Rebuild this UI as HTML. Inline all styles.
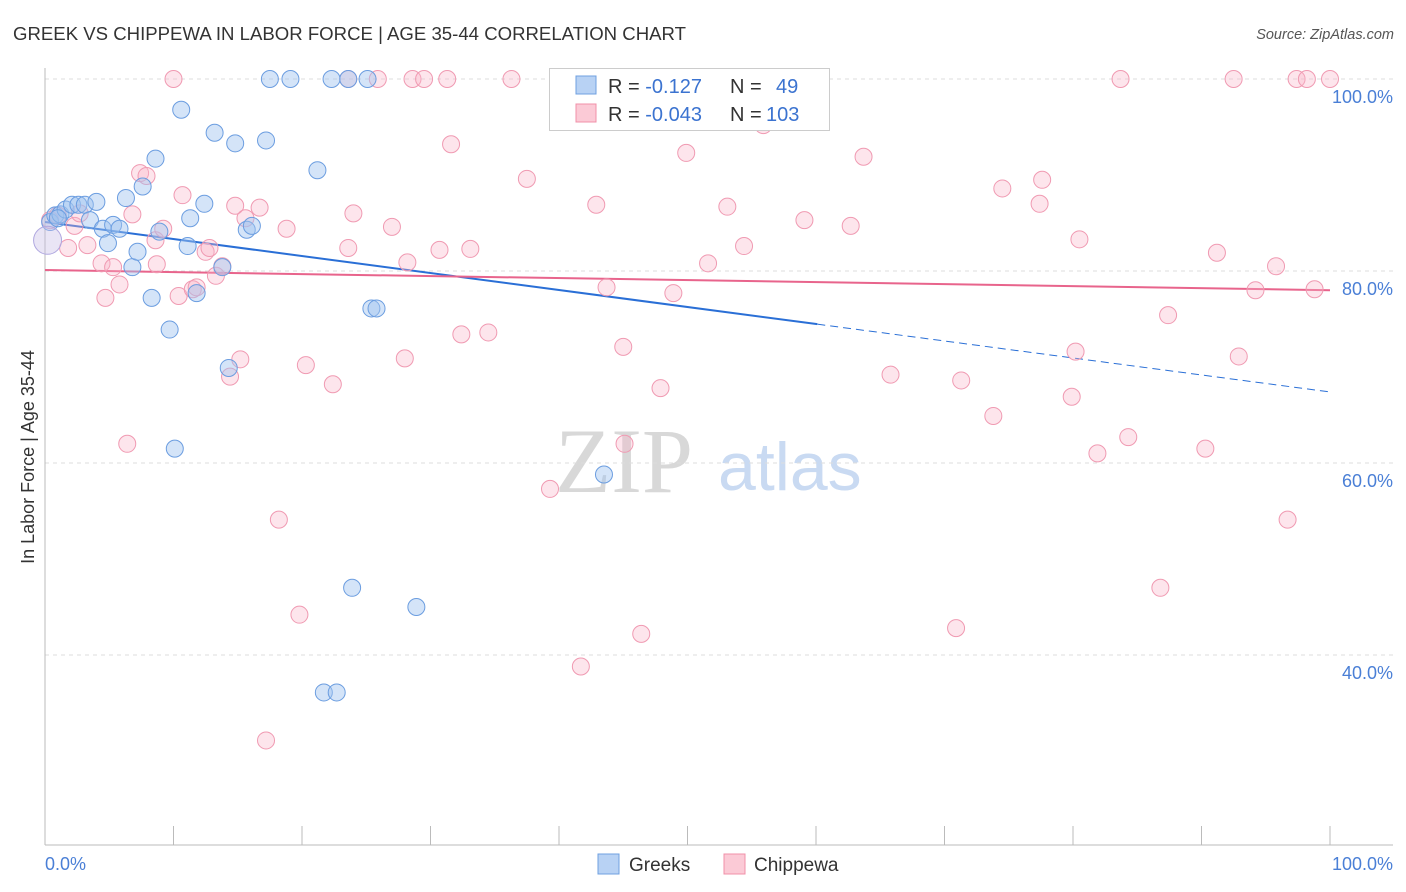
<!DOCTYPE html>
<html><head><meta charset="utf-8">
<style>
body{margin:0;background:#fff;font-family:"Liberation Sans",sans-serif;}
svg{display:block}
</style></head>
<body>
<svg id="chart" width="1406" height="892" xmlns="http://www.w3.org/2000/svg">
<text x="13" y="40" font-size="18.6" fill="#333">GREEK VS CHIPPEWA IN LABOR FORCE | AGE 35-44 CORRELATION CHART</text>
<text x="1394" y="39" font-size="14.5" fill="#555" font-style="italic" text-anchor="end">Source: ZipAtlas.com</text>
<g>
<text x="555" y="492" font-family="Liberation Serif,serif" font-size="92" fill="#d8d8d8">ZIP</text>
<text x="718" y="490" font-size="68" fill="#c9daf2">atlas</text>
</g>
<g id="grid"></g>
<g id="axes"></g>
<g id="trend"></g>
<g id="pts"></g>
<text transform="translate(34,457) rotate(-90)" font-size="18" fill="#333" text-anchor="middle">In Labor Force | Age 35-44</text>
<text x="45" y="870" font-size="18" fill="#4a7fd6">0.0%</text>
<text x="1393" y="870" font-size="18" fill="#4a7fd6" text-anchor="end">100.0%</text>
<g>
<rect x="549.5" y="68.5" width="280" height="62" fill="#fff" stroke="#ccc"/>
<rect x="576" y="76" width="20" height="18" fill="#b8d2f4" stroke="#6fa0e0"/>
<rect x="576" y="104" width="20" height="18" fill="#fbcad6" stroke="#f090a8"/>
<text x="608" y="93" font-size="20" fill="#333">R = <tspan fill="#3b73d0"> -0.127</tspan><tspan x="730">N = </tspan><tspan fill="#3b73d0" x="776">49</tspan></text>
<text x="608" y="121" font-size="20" fill="#333">R = <tspan fill="#3b73d0">-0.043</tspan><tspan x="730">N = </tspan><tspan fill="#3b73d0" x="766">103</tspan></text>
</g>
<g>
<rect x="598" y="854" width="21" height="20" fill="#b8d2f4" stroke="#6fa0e0"/>
<text x="629" y="871" font-size="19" fill="#333">Greeks</text>
<rect x="724" y="854" width="21" height="20" fill="#fbcad6" stroke="#f090a8"/>
<text x="754" y="871" font-size="19" fill="#333">Chippewa</text>
</g>
</svg>
<script>
const yTicks=[100,80,60,40];
const greekX=[0.4,0.8,1.2,1.6,2.1,2.6,3.1,3.5,4.0,4.5,4.9,5.3,5.8,6.3,6.8,7.2,7.6,8.3,8.6,8.9,9.7,10.1,10.6,11.1,11.3,11.8,12.4,13.2,13.8,14.3,14.8,15.7,16.1,17.2,17.5,19.1,21.2,21.7,22.3,22.7,23.6,23.9,25.1,25.4,25.8,28.9,43.5,51.8,1.0];
const greekY=[85.1,85.8,85.9,86.4,86.9,86.9,86.9,85.3,87.2,84.4,82.9,84.8,84.4,87.6,80.4,82.0,88.8,77.2,91.7,84.1,73.9,61.5,96.8,82.6,85.5,77.7,87.0,94.4,80.4,69.9,93.3,84.3,84.7,93.6,100,100,90.5,36.1,100,36.1,100,47.0,100,76.1,76.1,45.0,58.8,100,85.5];
const chipX=[0.4,1.0,1.8,2.3,2.7,3.3,4.4,4.7,5.3,5.8,6.4,6.8,7.4,7.9,8.6,8.7,9.2,10.0,10.4,10.7,11.5,11.8,12.5,12.8,13.3,13.8,14.4,14.8,15.2,15.6,16.7,17.2,18.2,18.8,19.8,20.3,22.4,23.6,23.6,24.0,25.9,27.0,28.0,28.2,28.6,29.5,30.7,31.3,31.6,32.4,33.1,34.5,36.3,37.5,39.3,41.7,42.9,43.7,45.0,45.1,45.7,46.4,47.9,48.9,49.9,51.6,53.1,54.4,55.9,59.1,62.7,63.7,65.8,70.9,71.3,73.8,74.5,77.4,77.6,80.2,79.9,80.5,81.9,83.7,84.3,86.8,87.4,90.3,91.2,92.5,92.9,94.2,95.8,96.7,97.4,98.2,98.8,100];
const chipY=[85.3,85.8,82.4,84.7,86.0,82.7,80.8,77.2,80.4,78.6,62.0,85.9,90.2,89.9,83.2,80.7,84.4,100,77.4,87.9,78.1,78.3,82.0,82.4,79.5,80.5,69.0,86.8,70.8,85.5,86.6,31.1,54.1,84.4,44.2,70.2,68.2,100,82.4,86.0,100,84.6,70.9,80.9,100,100,82.2,100,93.2,73.4,82.3,73.6,100,89.6,57.3,38.8,86.9,78.3,72.1,62.0,97.0,42.2,67.8,77.7,92.3,80.8,86.7,82.6,95.2,85.3,84.7,91.9,69.2,42.8,68.6,64.9,88.6,87.0,89.5,71.6,66.9,83.3,61.0,100,62.7,47.0,75.4,61.5,81.9,100,71.1,78.0,80.5,54.1,100,100,78.1,100];
const greekTrend=[85.1,67.4];
const chipTrend=[80.1,78.0];
const sx=v=>45+v*12.85;
const sy=v=>79+(100-v)*9.6;
const NS='http://www.w3.org/2000/svg';
function mk(tag,attrs,parent){const e=document.createElementNS(NS,tag);for(const k in attrs)e.setAttribute(k,attrs[k]);document.getElementById(parent).appendChild(e);return e;}
yTicks.forEach(t=>{
 const l=mk('line',{x1:45,x2:1393,y1:sy(t),y2:sy(t),stroke:'#ddd','stroke-dasharray':'4,4'},'grid');
 
 
 const tx=mk('text',{x:1393,y:sy(t)+24,'font-size':18,fill:'#4a7fd6','text-anchor':'end'},'grid');
 tx.textContent=t.toFixed(1)+'%';
 
 
});
let a=mk('line',{x1:45,x2:45,y1:68,y2:845,stroke:'#bbb'},'axes');


a=mk('line',{x1:45,x2:1393,y1:845,y2:845,stroke:'#bbb'},'axes');


for(let i=1;i<=10;i++){
 const t=mk('line',{x1:sx(i*10),x2:sx(i*10),y1:826,y2:845,stroke:'#bbb'},'axes');
 
 
}
const gy=x=>greekTrend[0]+(greekTrend[1]-greekTrend[0])*x/100;
let tl=mk('line',{x1:sx(0),y1:sy(gy(0)),x2:sx(60.1),y2:sy(gy(60.1)),stroke:'#2a6fd6','stroke-width':2},'trend');


tl=mk('line',{x1:sx(60.1),y1:sy(gy(60.1)),x2:sx(100),y2:sy(gy(100)),stroke:'#2a6fd6','stroke-width':1,'stroke-dasharray':'8,5'},'trend');


tl=mk('line',{x1:sx(0),y1:sy(chipTrend[0]),x2:sx(100),y2:sy(chipTrend[1]),stroke:'#e8648c','stroke-width':2},'trend');


chipX.forEach((x,i)=>{
 const c=mk('circle',{cx:sx(x),cy:sy(chipY[i]),r:8.5,fill:'rgba(248,180,200,0.35)',stroke:'#f09ab2','stroke-width':1},'pts');
 
 
});
greekX.forEach((x,i)=>{
 const c=mk('circle',{cx:sx(x),cy:sy(greekY[i]),r:8.5,fill:'rgba(160,195,240,0.45)',stroke:'#6b9de0','stroke-width':1},'pts');
 
 
});
const big=mk('circle',{cx:sx(0.2),cy:sy(83.2),r:14,fill:'rgba(200,190,230,0.4)',stroke:'#b0a8e0','stroke-width':1},'pts');


</script>
</body></html>
